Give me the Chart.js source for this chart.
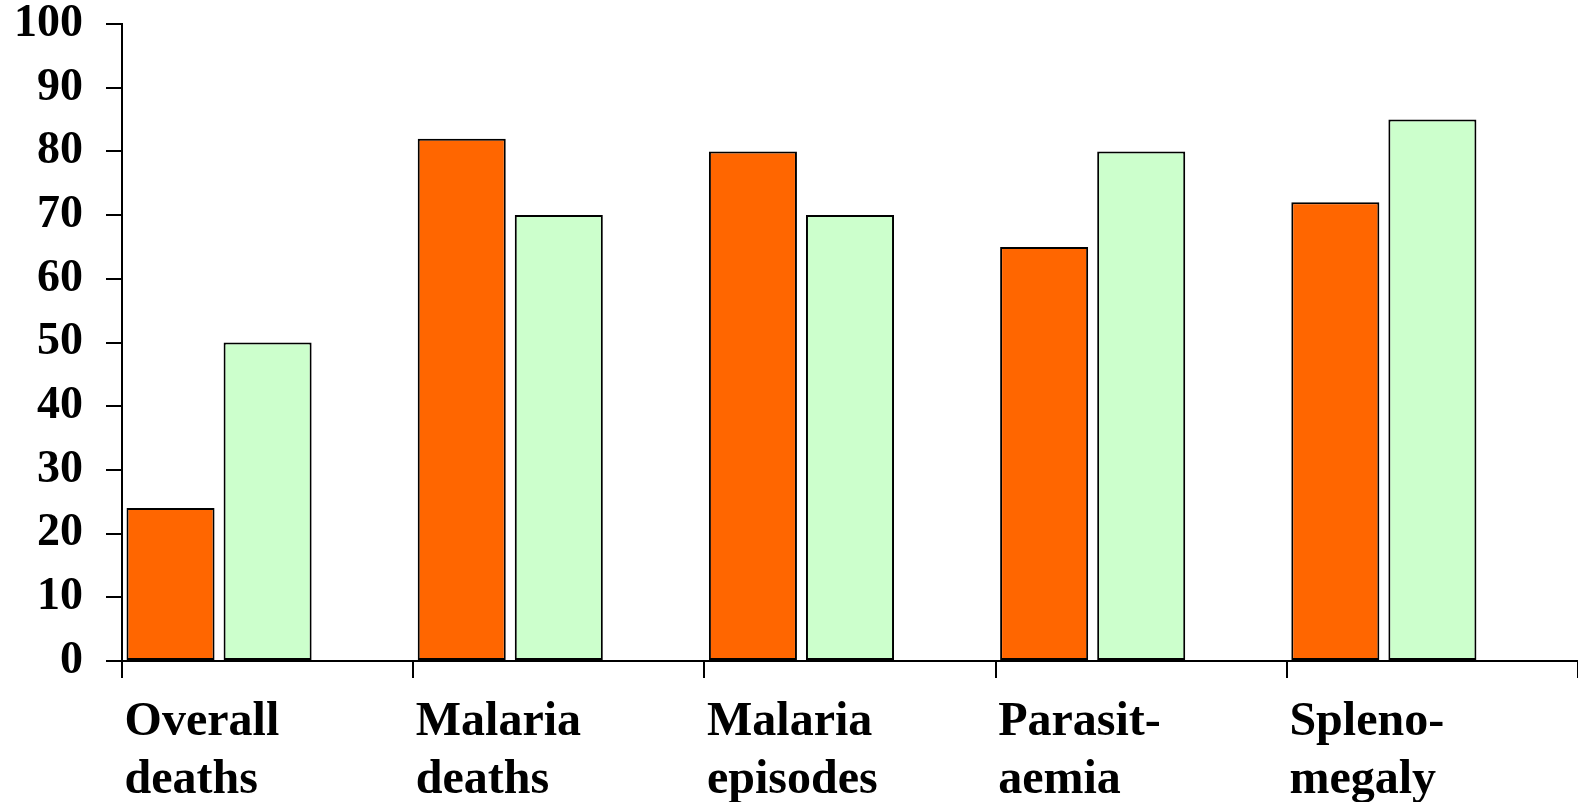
<!DOCTYPE html>
<html>
<head>
<meta charset="utf-8">
<script src="https://cdn.jsdelivr.net/npm/chart.js@4"></script>
<style>
  body { margin: 0; background: #fff; }
</style>
</head>
<body>
<canvas id="malariaChart" width="1578" height="802"></canvas>
<script>
// categories (two-line labels)
const categories = [
    ['Overall', 'deaths'],
    ['Malaria', 'deaths'],
    ['Malaria', 'episodes'],
    ['Parasit-', 'aemia'],
    ['Spleno-', 'megaly']
];

// series values
const orangeValues = [24, 82, 80, 65, 72];
const greenValues = [50, 70, 70, 80, 85];
// empty third slot, keeps the pair of bars on the left side of each category
const spacerValues = [null, null, null, null, null];

const yTickStep = 10;
const yMax = 100;

const serif = '"Liberation Serif", "Times New Roman", serif';

const ctx = document.getElementById('malariaChart').getContext('2d');

new Chart(ctx, {
    type: 'bar',
    data: {
        labels: categories,
        datasets: [
            {
                data: orangeValues,
                backgroundColor: '#FF6600',
                borderColor: '#000',
                borderWidth: 2,
                borderSkipped: false
            },
            {
                data: greenValues,
                backgroundColor: '#CCFFCC',
                borderColor: '#000',
                borderWidth: 2,
                borderSkipped: false
            },
            {
                data: spacerValues,
                backgroundColor: 'rgba(0,0,0,0)'
            }
        ]
    },
    options: {
        responsive: false,
        animation: false,
        categoryPercentage: 1,
        barPercentage: 0.907,
        layout: { padding: 0 },
        plugins: {
            legend: { display: false },
            tooltip: { enabled: false }
        },
        scales: {
            x: {
                grid: {
                    offset: true,
                    drawOnChartArea: false,
                    tickLength: 17,
                    color: '#000',
                    lineWidth: 2
                },
                border: { color: '#000', width: 2 },
                ticks: {
                    align: 'start',
                    labelOffset: -143,
                    padding: 15,
                    color: '#000',
                    maxRotation: 0,
                    autoSkip: false,
                    font: { family: serif, size: 48, weight: 'bold', lineHeight: 1.22 }
                },
                afterFit(scale) {
                    scale.height = 141;
                    scale.paddingLeft = 0;
                    scale.paddingRight = 0;
                }
            },
            y: {
                min: 0,
                max: yMax,
                grid: {
                    drawOnChartArea: false,
                    tickLength: 16,
                    color: '#000',
                    lineWidth: 2
                },
                border: { color: '#000', width: 2 },
                ticks: {
                    stepSize: yTickStep,
                    padding: 23,
                    color: '#000',
                    font: { family: serif, size: 46, weight: 'bold', lineHeight: 1.0 }
                },
                afterFit(scale) {
                    scale.width = 122;
                    scale.paddingTop = 24;
                    scale.paddingBottom = 0;
                }
            }
        }
    }
});
</script>
</body>
</html>
